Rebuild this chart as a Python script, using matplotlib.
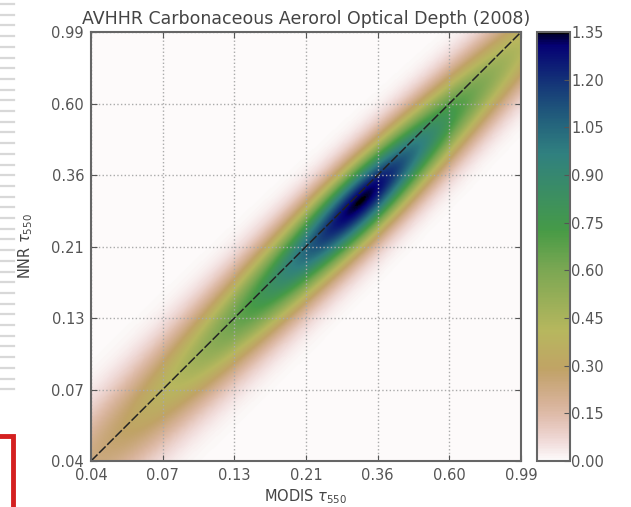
import numpy as np
import matplotlib
matplotlib.use("Agg")
import matplotlib.pyplot as plt
from matplotlib.lines import Line2D

# Axis ticks (optical depth, shown on a log(tau + 0.01) scale)
tick_labels = ["0.04", "0.07", "0.13", "0.21", "0.36", "0.60", "0.99"]
tick_eta = [-3.0, -2.5, -2.0, -1.5, -1.0, -0.5, 0.0]

# Colorbar ticks
cbar_ticks = [0.00, 0.15, 0.30, 0.45, 0.60, 0.75, 0.90, 1.05, 1.20, 1.35]

# Joint density parameters (in eta = log(tau + 0.01) space)
peak_value = 1.35
peak_x, peak_y = -1.12, -1.18          # MODIS, NNR location of the maximum
decay_along_low = 0.95                 # e-folding length along the 1:1 line, below the peak
decay_along_high = 0.80                # e-folding length along the 1:1 line, above the peak
core_width = 0.18                      # rounding of the peak along the line
sigma_across = 0.21                    # spread across the 1:1 line at the peak
sigma_across_growth = 0.03             # widening per unit eta towards low values
offset_tilt = 0.02                     # NNR bias drift per unit eta along the line

# Build density grid
n = 400
eta = np.linspace(-3.0, 0.0, n)
X, Y = np.meshgrid(eta, eta)
u = (X + Y) / 2.0
u0 = (peak_x + peak_y) / 2.0
v0 = peak_y - peak_x
du = u - u0
v_center = v0 - offset_tilt * du
s_across = sigma_across + sigma_across_growth * np.clip(-du, 0, None)
L_along = np.where(du < 0, decay_along_low, decay_along_high)
r = np.sqrt(du ** 2 + core_width ** 2) - core_width
Z = peak_value * np.exp(-r / L_along) \
    * np.exp(-0.5 * ((Y - X - v_center) / s_across) ** 2)

fig = plt.figure(figsize=(6.31, 5.07), dpi=100)
ax = fig.add_axes([0.1442, 0.0907, 0.6815, 0.846])
cax = fig.add_axes([0.851, 0.0907, 0.0523, 0.846])

im = ax.imshow(Z, origin="lower", extent=[-3, 0, -3, 0], cmap="gist_earth_r",
               vmin=0.0, vmax=1.35, interpolation="bilinear", aspect="auto")
ax.plot([-3, 0], [-3, 0], color="#222222", linestyle="--", dashes=(6, 1.5), linewidth=1.1)

ax.set_xlim(-3, 0)
ax.set_ylim(-3, 0)
ax.set_xticks(tick_eta)
ax.set_yticks(tick_eta)
ax.set_xticklabels(tick_labels)
ax.set_yticklabels(tick_labels)
ax.grid(True, color="#aaaaaa", linestyle=":", linewidth=1.0)
ax.tick_params(direction="in", length=4, color="#555555", labelcolor="#555555",
               labelsize=10.5, top=True, right=True, pad=5)
for sp in ax.spines.values():
    sp.set_color("#666666")
    sp.set_linewidth(1.5)

ax.set_title("AVHHR Carbonaceous Aerorol Optical Depth (2008)", fontsize=12.5,
             color="#444444", pad=6)
ax.set_xlabel(r"MODIS $\tau_{550}$", fontsize=10.5, color="#444444", labelpad=3)
ax.set_ylabel(r"NNR $\tau_{550}$", fontsize=10.5, color="#444444", labelpad=12)

cb = fig.colorbar(im, cax=cax, ticks=cbar_ticks)
cb.ax.set_yticklabels([f"{t:.2f}" for t in cbar_ticks])
cb.ax.tick_params(direction="in", length=4, color="#555555", labelcolor="#555555",
                  labelsize=10.5, pad=1)
cb.outline.set_edgecolor("#666666")
cb.outline.set_linewidth(1.5)

# Slide decorations at the left margin
W, H = 631.0, 507.0
for yp in np.arange(4, 395, 10.7):
    fig.add_artist(Line2D([0, 14 / W], [1 - yp / H, 1 - yp / H], color="#d8d8d8",
                          linewidth=1.6, transform=fig.transFigure))
fig.add_artist(Line2D([0, 12.5 / W, 12.5 / W], [1 - 436 / H, 1 - 436 / H, 0],
                      color="#d42020", linewidth=3.5, solid_joinstyle="miter",
                      transform=fig.transFigure))

fig.savefig("out.png", dpi=100)
